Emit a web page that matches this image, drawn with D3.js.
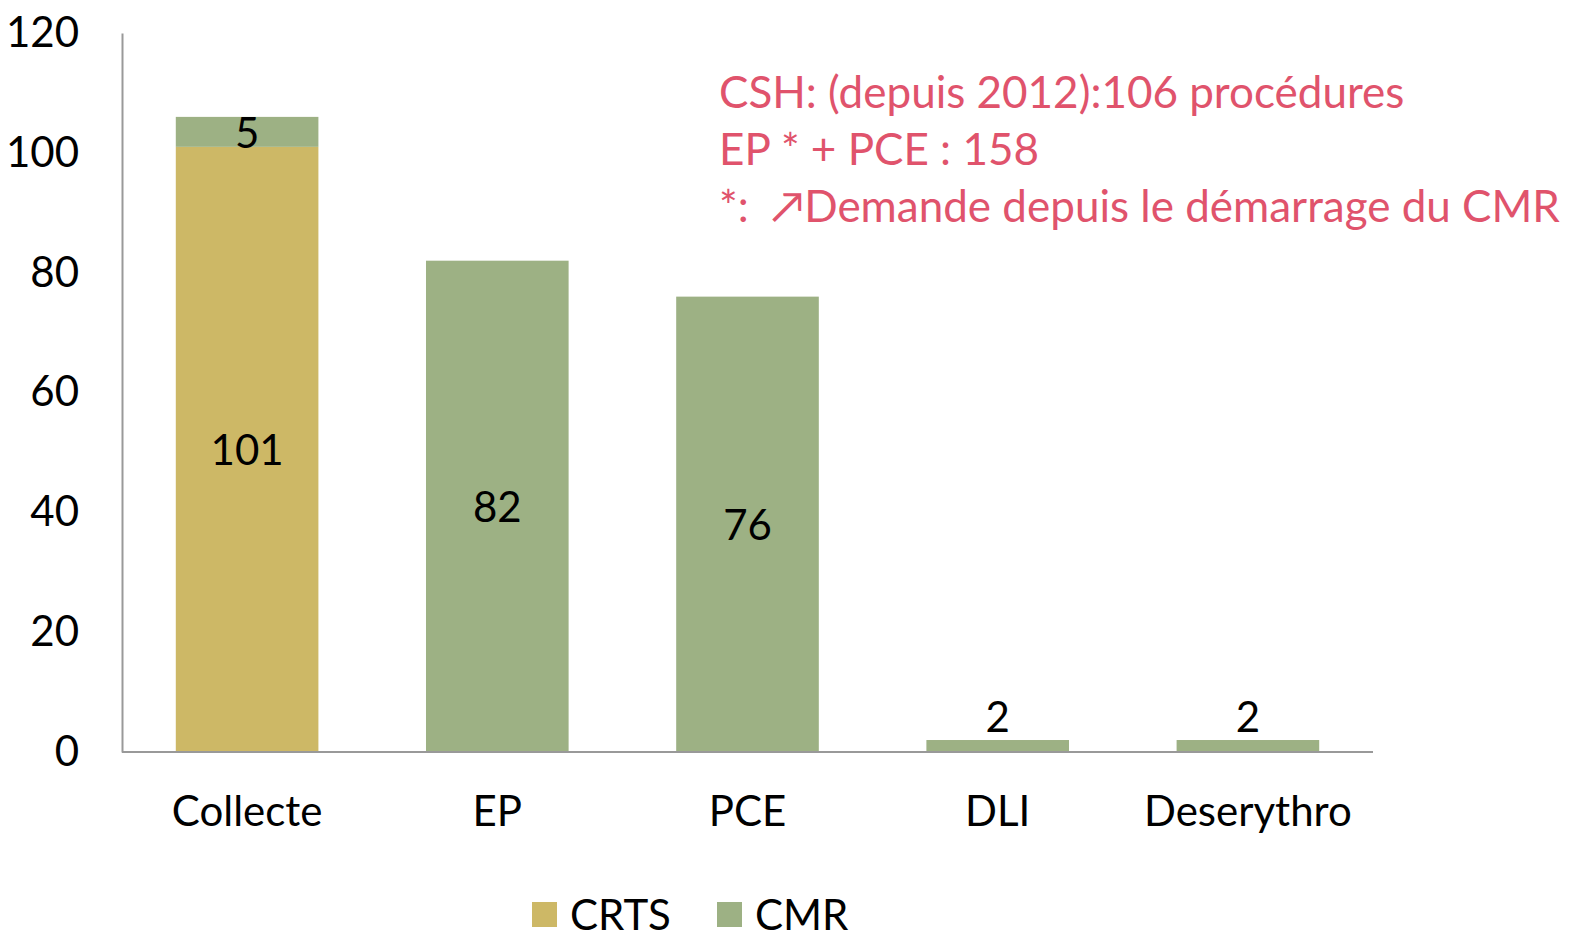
<!DOCTYPE html>
<head>
<meta charset="utf-8">
<title>Procédures CRTS / CMR</title>
<style>
body {
  margin: 0;
  padding: 0;
  background: #fff;
  font-family: Lato, "Open Sans", sans-serif;
  overflow: hidden;
}
text {
  font-family: Lato, "Open Sans", sans-serif;
}
.axis text {
  font-size: 42px;
  fill: #000;
}
.note {
  fill: #e0536c;
  font-size: 44px;
}
</style>
</head>
<body>
<svg id="viz" width="1583" height="930"></svg>
<script src="https://d3js.org/d3.v7.min.js"></script>
<script>
var categories = ['Collecte', 'EP', 'PCE', 'DLI', 'Deserythro']
var crts = [101, 0, 0, 0, 0]
var cmr = [5, 82, 76, 2, 2]
var yTicks = [0, 20, 40, 60, 80, 100, 120]
var seriesNames = ['CRTS', 'CMR']
var colors = ['#cdb866', '#9db184']
var notes = [
  'CSH: (depuis 2012):106 procédures',
  'EP * + PCE : 158',
  '*:  \u2197Demande depuis le démarrage du CMR'
]

var svg = d3.select('#viz')
var plotLeft = 122, plotRight = 1373, plotTop = 33, plotBottom = 752

var x = d3.scaleBand().domain(categories).range([plotLeft, plotRight]).paddingInner(0.43).paddingOuter(0.215)
var y = d3.scaleLinear().domain([0, 120]).range([plotBottom, plotTop])

// stacked data
var rows = categories.map(function(c, i) { return { cat: c, CRTS: crts[i], CMR: cmr[i] } })
var stack = d3.stack().keys(seriesNames)(rows)

var g = svg.append('g')
stack.forEach(function(layer, k) {
  g.selectAll('rect.s' + k)
    .data(layer.filter(function(d) { return d[1] - d[0] > 0 }))
    .enter().append('rect')
      .attr('x', function(d) { return x(d.data.cat) })
      .attr('width', x.bandwidth())
      .attr('y', function(d) { return y(d[1]) })
      .attr('height', function(d) { return y(d[0]) - y(d[1]) })
      .attr('fill', colors[k])
})

// value labels (tiny bars get their label above)
stack.forEach(function(layer, k) {
  g.selectAll('text.v' + k)
    .data(layer.filter(function(d) { return d[1] - d[0] > 0 }))
    .enter().append('text')
      .attr('x', function(d) { return x(d.data.cat) + x.bandwidth() / 2 })
      .attr('y', function(d) {
        var h = y(d[0]) - y(d[1])
        if (h < 20) return y(d[1]) - 24
        return (y(d[0]) + y(d[1])) / 2
      })
      .attr('text-anchor', 'middle')
      .attr('dominant-baseline', 'central')
      .style('font-size', '42px')
      .text(function(d) { return d[1] - d[0] })
})

// axes
var yAxis = svg.append('g').attr('class', 'axis')
  .attr('transform', 'translate(' + plotLeft + ',0)')
  .call(d3.axisLeft(y).tickValues(yTicks).tickSize(0).tickPadding(43))
yAxis.select('.domain').attr('stroke', '#999').attr('stroke-width', 2)

var xAxis = svg.append('g').attr('class', 'axis')
  .attr('transform', 'translate(0,' + plotBottom + ')')
  .call(d3.axisBottom(x).tickSize(0).tickPadding(44))
xAxis.select('.domain').attr('stroke', '#999').attr('stroke-width', 2)
  .attr('d', 'M' + plotLeft + ',0H' + plotRight)

// notes
svg.selectAll('text.note')
  .data(notes)
  .enter().append('text')
    .attr('class', 'note')
    .attr('x', 719)
    .attr('y', function(d, i) { return 91 + i * 57 })
    .attr('dominant-baseline', 'central')
    .style('white-space', 'pre')
    .text(function(d) { return d })

// legend
var lg = svg.append('g').attr('transform', 'translate(532,914)')
var legX = [0, 185]
seriesNames.forEach(function(s, i) {
  lg.append('rect').attr('x', legX[i]).attr('y', -12).attr('width', 25).attr('height', 25).attr('fill', colors[i])
  lg.append('text').attr('x', legX[i] + 38).attr('y', 0)
    .attr('dominant-baseline', 'central')
    .style('font-size', '42px')
    .text(s)
})
</script>
</body>
</html>
